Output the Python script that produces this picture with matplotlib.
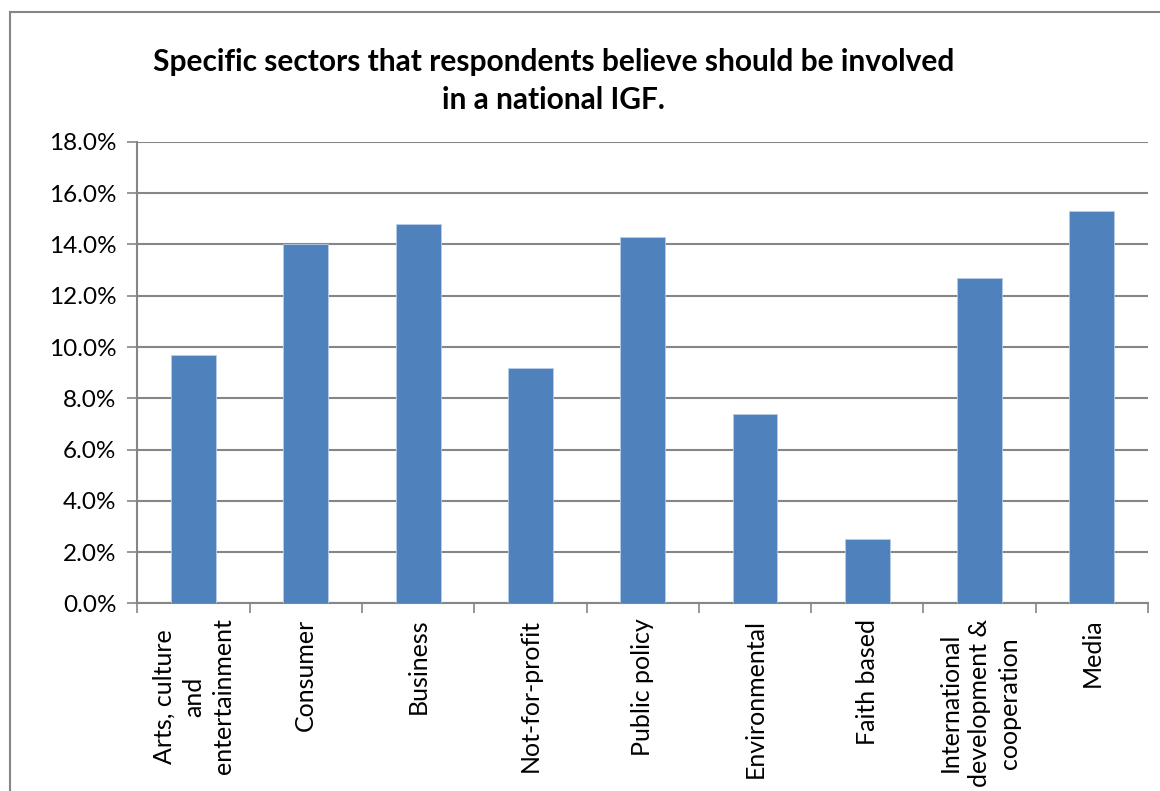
import matplotlib
matplotlib.use("Agg")
import matplotlib.pyplot as plt
from matplotlib.patches import Rectangle
from matplotlib.ticker import PercentFormatter

# survey shares per sector (percent of respondents)
sectors = ["Arts, culture\nand\nentertainment", "Consumer", "Business", "Not-for-profit",
           "Public policy", "Environmental", "Faith based",
           "International\ndevelopment &\ncooperation", "Media"]
shares = [9.7, 14.0, 14.8, 9.2, 14.3, 7.4, 2.5, 12.7, 15.3]
y_ticks = [0, 2, 4, 6, 8, 10, 12, 14, 16, 18]

grey = "#868686"
bar_blue = "#4F81BD"
font = ["Lato", "DejaVu Sans"]

fig = plt.figure(figsize=(11.6, 7.91), dpi=100)
ax = fig.add_axes([0.1184, 0.2373, 0.8713, 0.5832])

x = list(range(len(sectors)))
ax.bar(x, shares, width=0.4, color=bar_blue, edgecolor="#B9CDE5", linewidth=0.6, zorder=3)

ax.set_xlim(-0.5, len(sectors) - 0.5)
ax.set_ylim(0, 18)
ax.set_yticks(y_ticks)
ax.yaxis.set_major_formatter(PercentFormatter(decimals=1))
ax.yaxis.grid(True, color=grey, linewidth=1.5, zorder=0)
ax.set_axisbelow(True)

for side in ["top", "right"]:
    ax.spines[side].set_visible(False)
for side in ["left", "bottom"]:
    ax.spines[side].set_color(grey)
    ax.spines[side].set_linewidth(1.5)

# category separators on the x axis
ax.set_xticks([i - 0.5 for i in range(len(sectors) + 1)])
ax.set_xticklabels([])
ax.tick_params(axis="x", which="major", length=7, width=1.2, color=grey, direction="out")
ax.set_xticks(x, minor=True)
ax.set_xticklabels(sectors, minor=True, rotation=90, fontsize=18,
                   family=font, multialignment="center", linespacing=1.35)
ax.tick_params(axis="x", which="minor", length=0, pad=11)

ax.tick_params(axis="y", length=7, width=1.2, color=grey, pad=8)
for lab in ax.get_yticklabels():
    lab.set_fontsize(17.5)
    lab.set_family(font)

fig.text(0.477, 0.8976,
         "Specific sectors that respondents believe should be involved\nin a national IGF.",
         ha="center", va="center", fontsize=21.5, fontweight="bold", linespacing=1.45,
         family=font)

# chart frame
fig.patches.append(Rectangle((10 / 1160, -0.1), 1.2, 0.1 + (1 - 12 / 791),
                             transform=fig.transFigure, fill=False,
                             edgecolor=grey, linewidth=1.5))

fig.savefig("out.png", dpi=100)
